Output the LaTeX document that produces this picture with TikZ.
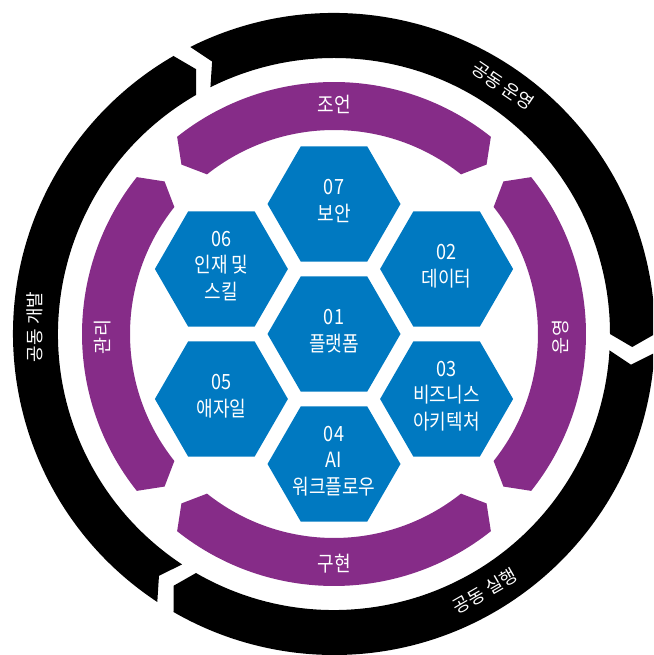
\documentclass[tikz,border=0pt]{standalone}
\usepackage{fontspec}
\setmainfont[FakeStretch=0.86]{Noto Sans CJK KR}
% rotated labels use the unstretched face
\newfontfamily\krplain{Noto Sans CJK KR}
\usetikzlibrary{shapes.geometric}

\definecolor{hexblue}{RGB}{0,121,193}
\definecolor{ringpurple}{RGB}{134,44,136}

% outer black band piece: concave notch at angle #1, pointed end at angle #2 (clockwise)
\newcommand\outerseg[2]{%
  \fill[black] ({#1}:321pt) arc[start angle=#1, end angle=#2, radius=321pt]
    -- ({#2-2.5}:298.5pt) -- ({#2}:276pt)
    arc[start angle=#2, end angle=#1, radius=276pt]
    -- ({#1-2.5}:298.5pt) -- cycle;}
% inner purple band piece with pointed ends on both sides
\newcommand\innerseg[2]{%
  \fill[ringpurple] ({#1}:252pt) arc[start angle=#1, end angle=#2, radius=252pt]
    -- ({#2-3.5}:228pt) -- ({#2}:204pt)
    arc[start angle=#2, end angle=#1, radius=204pt]
    -- ({#1+3.5}:228pt) -- cycle;}

\tikzset{
  hexa/.style={regular polygon, regular polygon sides=6, minimum size=133pt,
    inner sep=0pt, outer sep=0pt, fill=hexblue, draw=none},
  hextext/.style={text=white, align=center, inner sep=0pt, yshift=3pt,
    font=\fontsize{21}{26.5}\selectfont},
  bandtext/.style={text=white, inner sep=0pt, font=\fontsize{21}{26}\selectfont},
  sidetext/.style={text=white, inner sep=0pt, font=\krplain\fontsize{18.5}{22}\selectfont},
  outertext/.style={text=white, inner sep=0pt, font=\krplain\fontsize{18}{22}\selectfont},
}

\begin{document}
\begin{tikzpicture}[x=1pt,y=1pt]
\clip (-334,-321) rectangle (319,334);

% outer black ring: three pieces
\outerseg{116.6}{0}
\outerseg{356.6}{240}
\outerseg{236.6}{120}

% purple ring: four pieces
\innerseg{128.5}{51.5}
\innerseg{38.5}{-38.5}
\innerseg{-51.5}{-128.5}
\innerseg{218.5}{141.5}

% honeycomb
\node[hexa] (h01) at (0,0) {};
\node[hexa] (h07) at (0,130) {};
\node[hexa] (h04) at (0,-130) {};
\node[hexa] (h02) at (112.6,65) {};
\node[hexa] (h03) at (112.6,-65) {};
\node[hexa] (h06) at (-112.6,65) {};
\node[hexa] (h05) at (-112.6,-65) {};

\node[hextext] (t01) at (h01) {01\\플랫폼};
\node[hextext] (t07) at (h07) {07\\보안};
\node[hextext] (t04) at (h04) {04\\AI\\워크플로우};
\node[hextext] (t02) at (h02) {02\\데이터};
\node[hextext] (t03) at (h03) {03\\비즈니스\\아키텍처};
\node[hextext] (t06) at (h06) {06\\인재 및\\스킬};
\node[hextext] (t05) at (h05) {05\\애자일};

% purple band labels
\node[bandtext] (lb1) at (0,230) {조언};
\node[bandtext] (lb2) at (0,-230) {구현};
\node[sidetext, rotate=90] (lb3) at (-231,-3) {관리};
\node[sidetext, rotate=90] (lb4) at (227,-3) {운영};

% black band labels
\node[outertext, rotate=-34] (lo1) at (169,248) {공동 운영};
\node[outertext, rotate=30] (lo2) at (151,-257) {공동 실행};
\node[outertext, rotate=90] (lo3) at (-299,7) {공동 개발};
\end{tikzpicture}
\end{document}
